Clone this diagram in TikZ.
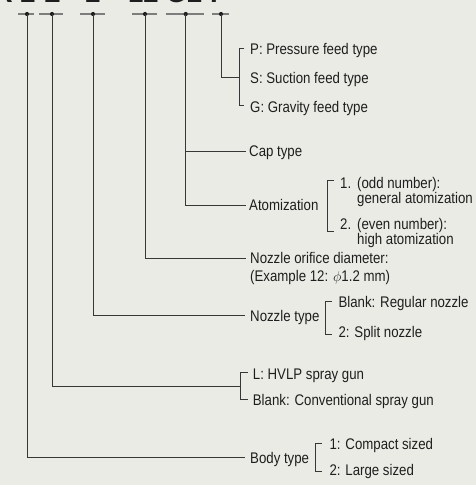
\documentclass[tikz,border=0pt]{standalone}
\usepackage{fontspec}
\setmainfont{Liberation Sans}[FakeStretch=0.86]
\usetikzlibrary{calc}
\definecolor{bg}{RGB}{235,235,230}
\definecolor{ink}{RGB}{30,30,30}
\definecolor{ln}{RGB}{55,55,55}
\definecolor{tk}{RGB}{125,125,125}
\begin{document}
\begin{tikzpicture}[x=1pt,y=-1pt,
  lbl/.style={font=\fontsize{15.4}{17}\selectfont, text=ink, inner sep=0pt, anchor=base west},
  code/.style={font=\fontsize{32}{32}\selectfont\bfseries, text=ink, inner sep=0pt, anchor=base},
  conn/.style={draw=ln, line width=0.9pt},
  tickbar/.style={draw=tk, line width=1.2pt},
  dotm/.style={fill=ink}]
\fill[bg] (0,0) rectangle (476,485);
\useasboundingbox (0,0) rectangle (476,485);
% model code (only the bottom of its glyphs is inside the picture)
\node[code, anchor=base east] (c0) at (13,2.8) {R};
\node[code] (c1) at (28,2.8) {2};
\node[code] (c2) at (52,2.8) {L};
\node[code] (c3) at (93,2.8) {2};
\node[code] (c4) at (143.5,2.8) {12};
\node[code] (c5) at (184,2.8) {G2};
\node[code, anchor=base west] (c6) at (210,2.8) {P};
% tick marks with dots
\draw[tickbar] (18,14) -- (34,14);
\draw[tickbar] (39,14) -- (63,14);
\draw[tickbar] (80,14) -- (105,14);
\draw[tickbar] (132,14) -- (157,14);
\draw[tickbar] (166,14) -- (204,14);
\draw[tickbar] (212,14) -- (229,14);
\coordinate (d1) at (27,14);
\coordinate (d2) at (52,14);
\coordinate (d3) at (93,14);
\coordinate (d4) at (145,14);
\coordinate (d5) at (185.7,14);
\coordinate (d6) at (221,14);
\foreach \d in {d1,d2,d3,d4,d5,d6} \fill[ink] (\d) circle (2.1);
% feed type
\node[lbl] (f1) at (250,54.8) {P: Pressure feed type};
\node[lbl] (f2) at (250,83.8) {S: Suction feed type};
\node[lbl] (f3) at (250,112.2) {G: Gravity feed type};
\draw[conn] ($(f1.base west)+(-5.7,-6.5)$) -- ++(-5.3,0) |- ($(f3.base west)+(-5.7,-6.5)$);
\coordinate (fb) at (239,77.3);
\draw[conn] (d6) |- (fb);
% cap type
\node[lbl] (cap) at (249,156.8) {Cap type};
\draw[conn] (d5) |- ($(cap.base west)+(-3.5,-5.5)$);
% atomization
\node[lbl] (ato) at (249,210.5) {Atomization};
\draw[conn] (d5) |- ($(ato.base west)+(-3.5,-5.5)$);
\node[lbl] (a1n) at (340,188.5) {1.};
\node[lbl] (a1a) at (357,188.5) {(odd number):};
\node[lbl] (a1b) at (357,203.5) {general atomization};
\node[lbl] (a2n) at (340,229.5) {2.};
\node[lbl] (a2a) at (357,229.5) {(even number):};
\node[lbl] (a2b) at (357,244.5) {high atomization};
\draw[conn] ($(a1n.base west)+(-6,-8.5)$) -- ++(-6.3,0) |- ($(a2n.base west)+(-6,1.5)$);
% nozzle orifice diameter
\node[lbl] (no1) at (250,263.5) {Nozzle orifice diameter:};
\node[lbl] (no2) at (250,281.5) {(Example 12: $\phi$1.2 mm)};
\draw[conn] (d4) |- ($(no1.base west)+(-4,-5.2)$);
% nozzle type
\node[lbl] (nt) at (250,321) {Nozzle type};
\draw[conn] (d3) |- ($(nt.base west)+(-5,-5.3)$);
\node[lbl] (nt1) at (338.3,307.5) {Blank: Regular nozzle};
\node[lbl] (nt2) at (338.3,337.5) {2: Split nozzle};
\draw[conn] ($(nt1.base west)+(-6.6,-5.8)$) -- ++(-6.7,0) |- ($(nt2.base west)+(-6.6,-3.5)$);
% HVLP
\node[lbl] (g1) at (252.7,379.5) {L: HVLP spray gun};
\node[lbl] (g2) at (252.7,405.5) {Blank: Conventional spray gun};
\draw[conn] ($(g1.base west)+(-4.7,-6.8)$) -- ++(-8,0) |- ($(g2.base west)+(-4.7,-6.2)$);
\coordinate (gb) at (240,386);
\draw[conn] (d2) |- (gb);
% body type
\node[lbl] (bt) at (250,463) {Body type};
\draw[conn] (d1) |- ($(bt.base west)+(-5,-5.3)$);
\node[lbl] (bt1) at (329.3,449.5) {1: Compact sized};
\node[lbl] (bt2) at (329.3,475.5) {2: Large sized};
\draw[conn] ($(bt1.base west)+(-7.6,-6.5)$) -- ++(-6,0) |- ($(bt2.base west)+(-7.6,-4)$);
\end{tikzpicture}
\end{document}
